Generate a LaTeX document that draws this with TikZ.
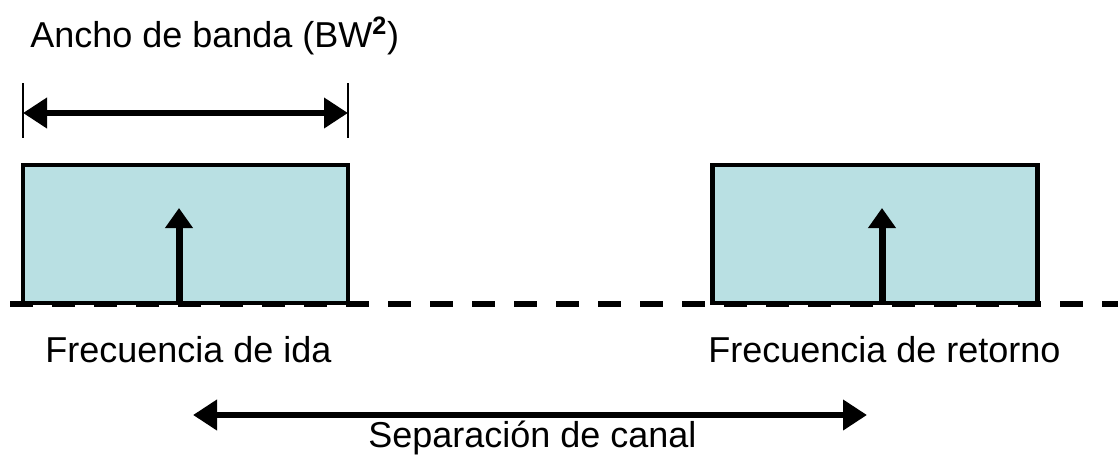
\documentclass[tikz,border=0pt]{standalone}
\usepackage{fontspec}
\setmainfont{Liberation Sans}
\usetikzlibrary{arrows.meta}
\definecolor{bandfill}{RGB}{185,224,227}
\tikzset{
  band/.style={draw=black, line width=3.4pt, fill=bandfill, minimum width=243.75pt, minimum height=103.5pt, inner sep=0pt, outer sep=0pt},
  lbl/.style={anchor=base west, inner sep=0pt, font=\fontsize{27pt}{32pt}\selectfont},
  dimarrow/.style={line width=5pt, {Triangle[length=18pt,width=22pt]}-{Triangle[length=18pt,width=22pt]}},
  carrier/.style={line width=5.25pt, -{Triangle[length=15pt,width=20pt]}},
  axisline/.style={line width=4.5pt, dash pattern=on 17.6pt off 13.9pt},
  tickline/.style={line width=1.1pt}
}
\begin{document}
\begin{tikzpicture}[x=0.75pt,y=-0.75pt]
\useasboundingbox (0,0) rectangle (1118,465);
% bands
\node[band] (b1) at (185.5,234) {};
\node[band] (b2) at (875,234) {};
% axis
\coordinate (dl) at (10,304);
\coordinate (dr) at (1118,304);
\draw[axisline] (dl) -- (dr);
% carriers
\coordinate (c1b) at (179,303);
\coordinate (c1t) at (179,208);
\coordinate (c2b) at (882,303);
\coordinate (c2t) at (882,208);
\draw[carrier] (c1b) -- (c1t);
\draw[carrier] (c2b) -- (c2t);
% bandwidth
\coordinate (t1a) at (23,83);
\coordinate (t1b) at (23,138);
\coordinate (t2a) at (348,83);
\coordinate (t2b) at (348,138);
\draw[tickline] (t1a) -- (t1b);
\draw[tickline] (t2a) -- (t2b);
\coordinate (bwl) at (23,113);
\coordinate (bwr) at (348,113);
\draw[dimarrow] (bwl) -- (bwr);
% channel separation
\coordinate (sl) at (193,415);
\coordinate (sr) at (867,415);
\draw[dimarrow] (sl) -- (sr);
% labels
\node[lbl] (tbw) at (30,47) {Ancho de banda (BW\textsuperscript{\textbf{2}})};
\node[lbl] (tida) at (45,362) {Frecuencia de ida};
\node[lbl] (tret) at (708,362) {Frecuencia de retorno};
\node[lbl] (tsep) at (368,447) {Separación de canal};
\end{tikzpicture}
\end{document}
